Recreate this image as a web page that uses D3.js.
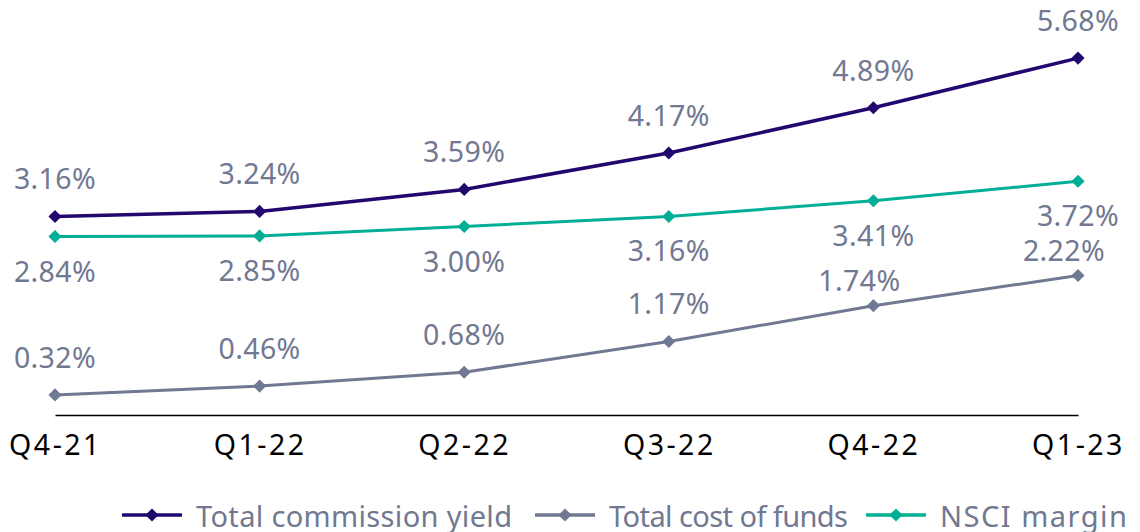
<!DOCTYPE html>
<html>
<head>
<meta charset="utf-8">
<script src="https://cdn.jsdelivr.net/npm/d3@7"></script>
<style>
  html, body { margin: 0; padding: 0; background: #fff; }
  svg { display: block; }
</style>
</head>
<body>
<svg id="chart" width="1140" height="532"></svg>
<script>
const quarters = ["Q4-21", "Q1-22", "Q2-22", "Q3-22", "Q4-22", "Q1-23"];
const commissionYield = [3.16, 3.24, 3.59, 4.17, 4.89, 5.68];
const costOfFunds = [0.32, 0.46, 0.68, 1.17, 1.74, 2.22];
const nsciMargin = [2.84, 2.85, 3.00, 3.16, 3.41, 3.72];
const seriesNames = ["Total commission yield", "Total cost of funds", "NSCI margin"];

const series = [
  { name: seriesNames[0], values: commissionYield, color: "#22086e", width: 3.5, labelPos: "above" },
  { name: seriesNames[1], values: costOfFunds, color: "#717891", width: 3, labelPos: "above" },
  { name: seriesNames[2], values: nsciMargin, color: "#00ae96", width: 3, labelPos: "below" }
];

const svg = d3.select("#chart");
const font = "'Noto Sans', 'Open Sans', sans-serif";
const labelColor = "#717891";

const x = d3.scalePoint().domain(quarters).range([55, 1078]);
const y = d3.scaleLinear().domain([0, 6]).range([415, 38]);

// category axis: baseline line + quarter labels
const xAxis = d3.axisBottom(x).tickSize(0).tickPadding(20);
const gx = svg.append("g").attr("transform", `translate(0,${y(0)})`).call(xAxis);
gx.select(".domain").attr("stroke", "#000").attr("stroke-width", 1.3);
gx.selectAll("text")
  .attr("font-family", font)
  .attr("font-size", 28.5)
  .attr("letter-spacing", 2.5)
  .attr("fill", "#000");

const diamond = d3.symbol().type(d3.symbolDiamond2).size(110);

const line = d3.line()
  .x((d, i) => x(quarters[i]))
  .y(d => y(d));

series.forEach(s => {
  svg.append("path")
    .datum(s.values)
    .attr("fill", "none")
    .attr("stroke", s.color)
    .attr("stroke-width", s.width)
    .attr("d", line);

  svg.selectAll(null)
    .data(s.values)
    .join("path")
    .attr("d", diamond)
    .attr("transform", (d, i) => `translate(${x(quarters[i])},${y(d)})`)
    .attr("fill", s.color);
});

// value labels; the last two cost-of-funds labels sit closer and to the left
// so they clear the NSCI labels just above them
const tightCost = i => i >= quarters.length - 2;
series.forEach((s, si) => {
  svg.selectAll(null)
    .data(s.values)
    .join("text")
    .attr("x", (d, i) => x(quarters[i]) - (si === 1 && tightCost(i) ? 14 : 0))
    .attr("y", (d, i) => {
      const py = y(d);
      if (si === 1 && tightCost(i)) return py - 15;
      return s.labelPos === "above" ? py - 27 : py + 45;
    })
    .attr("text-anchor", "middle")
    .attr("font-family", font)
    .attr("font-size", 28.5)
    .attr("letter-spacing", 0.4)
    .attr("fill", labelColor)
    .text(d => d.toFixed(2) + "%");
});

// legend
const legendItems = [
  { s: series[0], x0: 122, w: 316 },
  { s: series[1], x0: 535, w: 239 },
  { s: series[2], x0: 866, w: 187 }
];
const legendY = 515;
legendItems.forEach(it => {
  const g = svg.append("g");
  g.append("line")
    .attr("x1", it.x0).attr("x2", it.x0 + 60)
    .attr("y1", legendY).attr("y2", legendY)
    .attr("stroke", it.s.color).attr("stroke-width", 3.5);
  g.append("path")
    .attr("d", diamond)
    .attr("transform", `translate(${it.x0 + 30},${legendY})`)
    .attr("fill", it.s.color);
  g.append("text")
    .attr("x", it.x0 + 74)
    .attr("y", legendY + 12)
    .attr("font-family", font)
    .attr("font-size", 29)
    .attr("textLength", it.w)
    .attr("lengthAdjust", "spacing")
    .attr("fill", labelColor)
    .text(it.s.name);
});
</script>
</body>
</html>
